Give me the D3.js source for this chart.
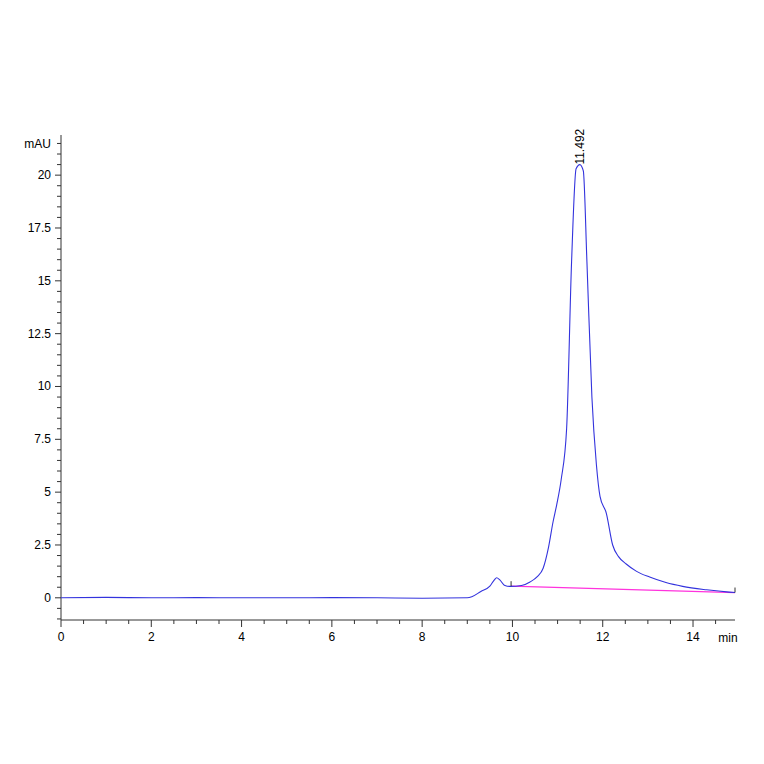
<!DOCTYPE html><html><head><meta charset="utf-8"><script src="https://d3js.org/d3.v7.min.js"></script>
<style>body{margin:0;background:#fff}text{font-family:Arial,"Liberation Sans",sans-serif;font-size:12px}</style></head><body><svg width="764" height="764"></svg>
<script>
const times=[0,1,2,3,4,5,6,7,8,9.0,9.1,9.3,9.5,9.6,9.65,9.72,9.82,9.95,10.2,10.39,10.55,10.68,10.8,10.9,10.98,11.08,11.2,11.31,11.41,11.492,11.57,11.65,11.76,11.86,11.94,12.08,12.22,12.35,12.52,12.75,13.04,13.4,13.77,14.3,14.8,14.93];
const signal=[0,0.02,0,0.01,0,0,0.01,0,-0.02,0,0.05,0.3,0.55,0.85,0.95,0.85,0.6,0.54,0.58,0.75,1.0,1.4,2.4,3.6,4.4,5.6,8.0,15.9,20.3,20.5,20.2,15.9,9.5,6.3,4.8,4.0,2.5,1.95,1.6,1.25,0.98,0.72,0.54,0.38,0.27,0.25];
const baseT=[9.97,14.93], baseV=[0.55,0.25];
const yTicks=[0,2.5,5,7.5,10,12.5,15,17.5,20], xTicks=[0,2,4,6,8,10,12,14];
const peakLabel="11.492", peakT=11.492;
const svg=d3.select("svg");
const x=d3.scaleLinear().domain([0,14.93]).range([61,735]);
const y=d3.scaleLinear().domain([-1.05,21.9]).range([620,135]);
const g=svg.append("g").attr("stroke","#333").attr("fill","none");
g.append("line").attr("x1",61).attr("x2",61).attr("y1",y(21.9)).attr("y2",y(-1.05));
g.append("line").attr("x1",61).attr("x2",735).attr("y1",620).attr("y2",620);
d3.range(-1,22,0.5).forEach(v=>{const maj=yTicks.includes(v);g.append("line").attr("x1",maj?55:57).attr("x2",61).attr("y1",y(v)).attr("y2",y(v));});
d3.range(0,15,0.5).forEach(v=>{const maj=xTicks.includes(v);g.append("line").attr("x1",x(v)).attr("x2",x(v)).attr("y1",620).attr("y2",maj?627:624);});
yTicks.forEach(v=>svg.append("text").attr("x",51).attr("y",y(v)+4).attr("text-anchor","end").text(v));
svg.append("text").attr("x",51).attr("y",148).attr("text-anchor","end").text("mAU");
xTicks.forEach(v=>svg.append("text").attr("x",x(v)).attr("y",641).attr("text-anchor","middle").text(v));
svg.append("text").attr("x",728).attr("y",642).attr("text-anchor","middle").text("min");
svg.append("path").datum(baseT.map((t,i)=>[t,baseV[i]])).attr("d",d3.line().x(d=>x(d[0])).y(d=>y(d[1]))).attr("stroke","#ff33dd").attr("fill","none").attr("stroke-width",1.2);
svg.append("path").datum(times.map((t,i)=>[t,signal[i]])).attr("d",d3.line().curve(d3.curveMonotoneX).x(d=>x(d[0])).y(d=>y(d[1]))).attr("stroke","#3333dd").attr("fill","none").attr("stroke-width",1.1);
baseT.forEach((t,i)=>svg.append("line").attr("x1",x(t)).attr("x2",x(t)).attr("y1",y(baseV[i])-5).attr("y2",y(baseV[i])).attr("stroke","#333"));
svg.append("text").attr("transform",`translate(${x(peakT)+4},${y(20.5)}) rotate(-90)`).attr("text-anchor","start").text(peakLabel);
</script></body></html>
